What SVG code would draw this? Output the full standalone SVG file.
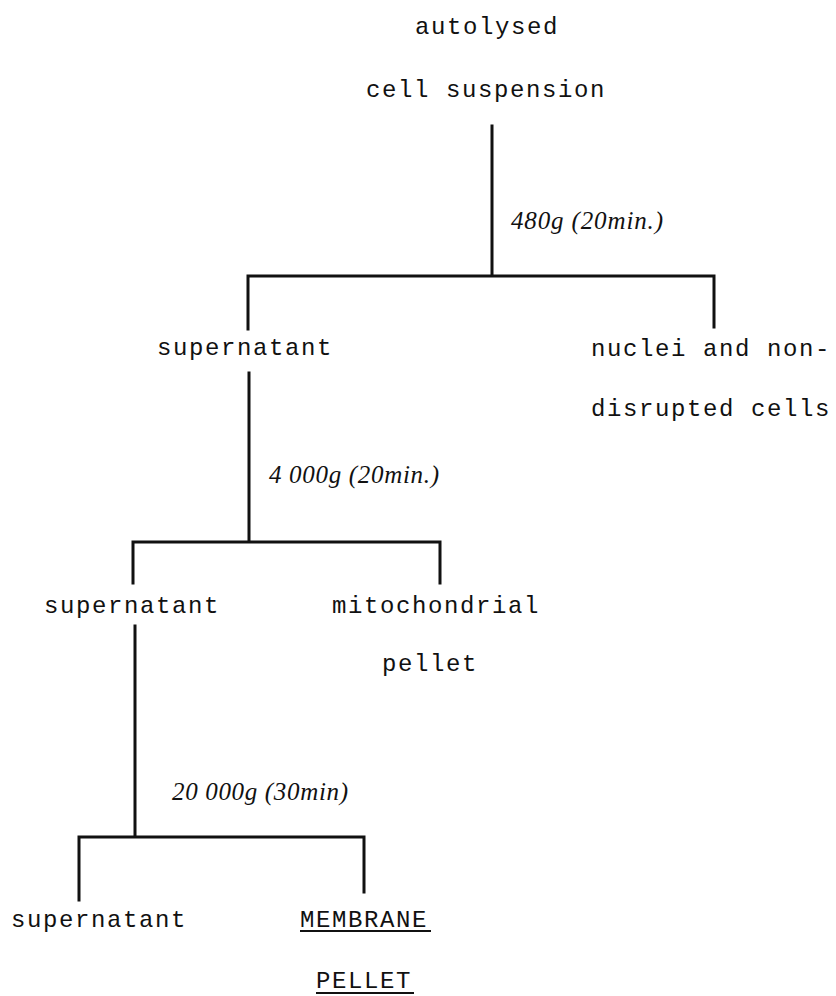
<svg xmlns="http://www.w3.org/2000/svg" width="836" height="996" viewBox="0 0 836 996">
<style>
.t{font-family:"Liberation Mono","Courier New",monospace;font-size:24px;letter-spacing:1.6px;fill:#111}
.c{font-family:"Liberation Serif","Times New Roman",serif;font-style:italic;font-size:25px;fill:#111}
.l{stroke:#111;stroke-width:3;fill:none;stroke-linecap:square}
.u{stroke:#111;stroke-width:2}
</style>
<rect width="836" height="996" fill="#fff"/>
<g id="connectors">
<path class="l" d="M492,126 V276 M248,276 H714 V327 M248,276 V329"/>
<path class="l" d="M249,373 V542 M133,542 H440 V583 M133,542 V583"/>
<path class="l" d="M135,626 V837 M79,837 H364 V892 M79,837 V900"/>
<text class="c" x="511" y="229" textLength="152" lengthAdjust="spacing">480g (20min.)</text>
<text class="c" x="269" y="483" textLength="170" lengthAdjust="spacing">4 000g (20min.)</text>
<text class="c" x="172" y="800" textLength="176" lengthAdjust="spacing">20 000g (30min)</text>
</g>
<g id="n-start">
<text class="t" x="415" y="34">autolysed</text>
<text class="t" x="366" y="97">cell suspension</text>
</g>
<g id="n-sup1"><text class="t" x="157" y="355">supernatant</text></g>
<g id="n-nuclei">
<text class="t" x="591" y="356">nuclei and non-</text>
<text class="t" x="591" y="416">disrupted cells</text>
</g>
<g id="n-sup2"><text class="t" x="44" y="613">supernatant</text></g>
<g id="n-mito">
<text class="t" x="332" y="613">mitochondrial</text>
<text class="t" x="382" y="671">pellet</text>
</g>
<g id="n-sup3"><text class="t" x="11" y="927">supernatant</text></g>
<g id="n-membrane">
<text class="t" x="300" y="927">MEMBRANE</text>
<line class="u" x1="300" y1="931" x2="431" y2="931"/>
<text class="t" x="316" y="988">PELLET</text>
<line class="u" x1="316" y1="993" x2="414" y2="993"/>
</g>
</svg>
